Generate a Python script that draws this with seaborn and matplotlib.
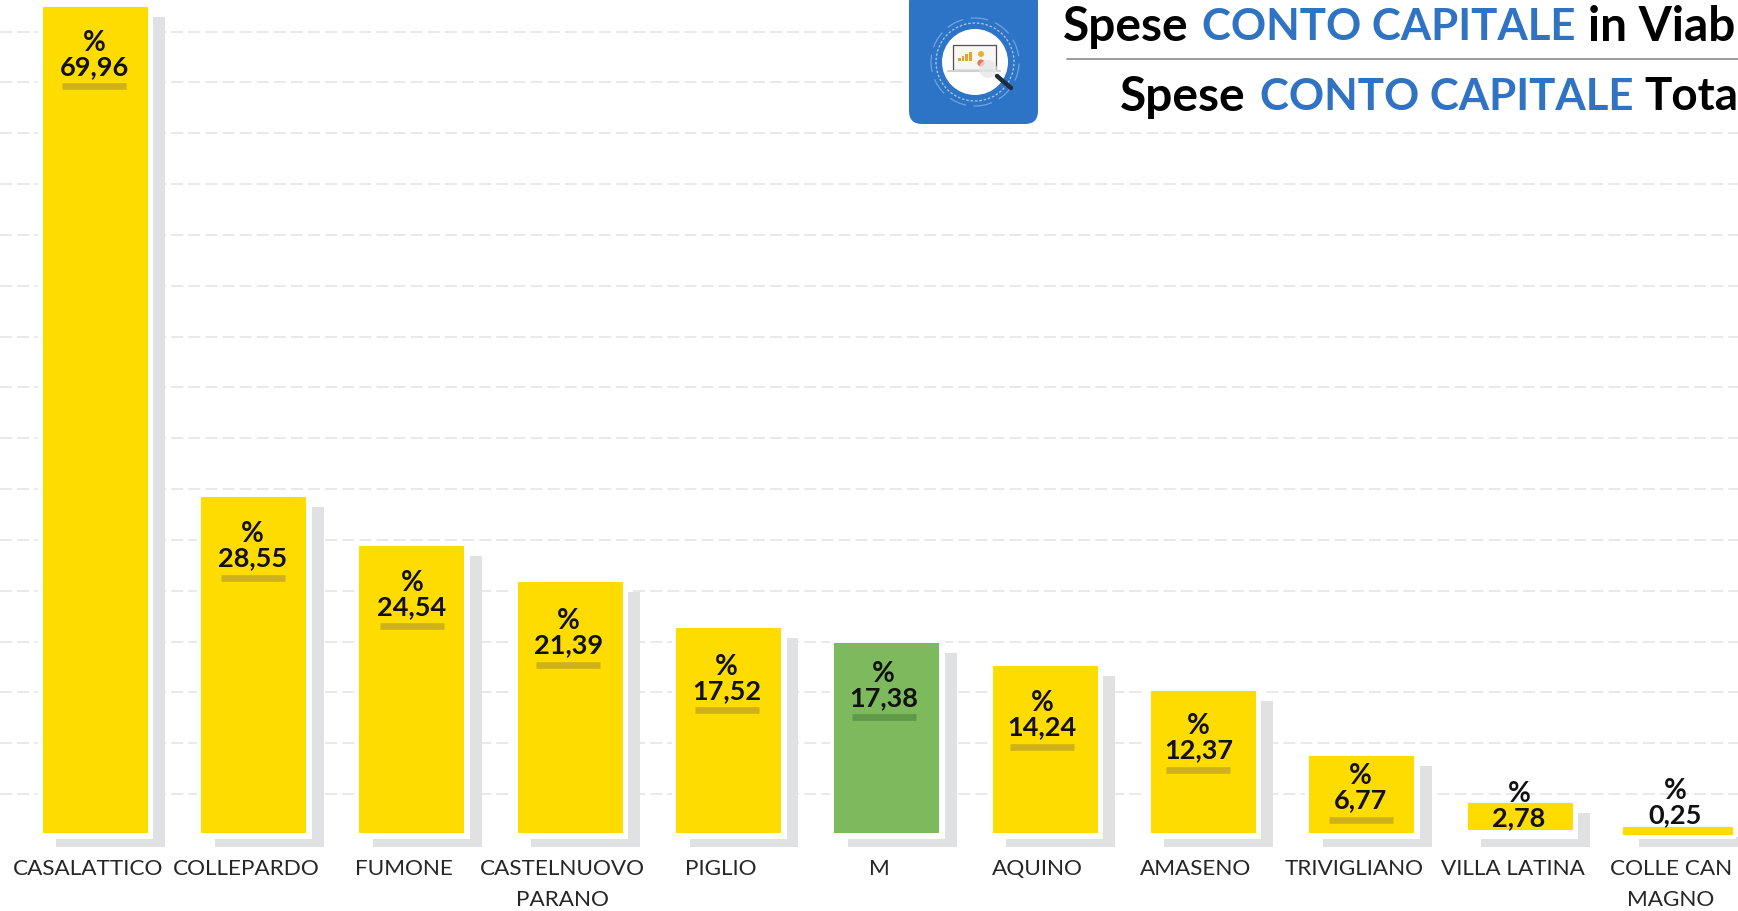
import matplotlib
matplotlib.use("Agg")
import matplotlib.pyplot as plt
from matplotlib.patches import FancyBboxPatch, Circle, Rectangle
from matplotlib.transforms import ScaledTranslation
import seaborn as sns
import pandas as pd

comuni = ["CASALATTICO", "COLLEPARDO", "FUMONE", "CASTELNUOVO\nPARANO", "PIGLIO", "M",
          "AQUINO", "AMASENO", "TRIVIGLIANO", "VILLA LATINA", "COLLE CAN\nMAGNO"]
# printed percentages
percent_labels = ["69,96", "28,55", "24,54", "21,39", "17,52", "17,38",
                  "14,24", "12,37", "6,77", "2,78", "0,25"]
# heights as actually drawn in the picture (the infographic is not strictly to scale)
drawn_heights = [69.9, 28.4, 24.3, 21.2, 17.35, 16.1, 14.1, 12.0, 6.5, 2.3, 0.7]
drawn_bottoms = [0, 0, 0, 0, 0, 0, 0, 0, 0, 0.25, -0.17]
grid_levels = [3.3, 7.6, 11.9, 16.2, 20.5, 24.8, 29.1, 33.4, 37.7, 42.0, 46.3, 50.6, 54.9, 59.2, 63.5, 67.8]

W, H = 1738, 912
PX_Y = 11.82
PITCH = 158.3
YEL, GRN, SHD = "#FFDC00", "#7DB95D", "#E0E1E3"
colors = [GRN if c == "M" else YEL for c in comuni]
und_colors = ["#5E9A48" if c == "M" else "#CFB21A" for c in comuni]
# pixel offsets of the value text relative to the bar top / bar centre
val_off = [59, 60, 60, 62, 62, 54, 60, 58, 43, 14, -13]
lab_dx = [-1, -1, 0, -2, -2, -3, -3, -5, -1, -1, -3]

sns.set_theme(style="white")
plt.rcParams["font.family"] = ["Lato", "DejaVu Sans"]

fig = plt.figure(figsize=(W / 100, H / 100), dpi=100, facecolor="white")
ax = fig.add_axes([0, 0, 1, 1])

bw = 105 / PITCH
xs = list(range(len(comuni)))

df = pd.DataFrame({"comune": comuni, "h": drawn_heights})
sns.barplot(data=df, x="comune", y="h", hue="comune", palette=colors, legend=False,
            width=bw, saturation=1, ax=ax, zorder=4, linewidth=0)
for p, b in zip(ax.patches, drawn_bottoms):
    p.set_y(b)
last = ax.patches[len(comuni) - 1]
last.set_x(10 - 55 / PITCH)
last.set_width(110 / PITCH)

PT = 0.72  # points per pixel at 100 dpi
for i, (h, b) in enumerate(zip(drawn_heights, drawn_bottoms)):
    top = b + h
    # grey L-shaped shadow: grey rectangle partly covered by a white one
    ax.bar(i + 15.5 / PITCH, top + 4 / PX_Y, width=109 / PITCH, bottom=-14 / PX_Y,
           color=SHD, linewidth=0, zorder=2)
    ax.bar(i + 0.5 / PITCH, top + 9 / PX_Y, width=115 / PITCH, bottom=-6 / PX_Y,
           color="white", linewidth=0, zorder=3)
    off = val_off[i]
    dx = lab_dx[i]
    ax.annotate(percent_labels[i], (i, top), xytext=(dx * PT, -off * PT), textcoords="offset points",
                ha="center", va="center", fontsize=19.5, fontweight="bold", color="#111111", zorder=6)
    ax.annotate("%", (i, top), xytext=(dx * PT, -(off - 24) * PT), textcoords="offset points",
                ha="center", va="center", fontsize=20, fontweight="bold", color="#111111", zorder=6)
    if i < 9:
        ax.plot([i + (dx - 32) / PITCH, i + (dx + 32) / PITCH], [top - (off + 20.5) / PX_Y] * 2,
                color=und_colors[i], lw=4.8, solid_capstyle="butt", zorder=5)

ax.set_xlim(-95.3 / PITCH, (W - 95.3) / PITCH)
ax.set_ylim(-(H - 834) / PX_Y, 834 / PX_Y)
ax.set_yticks(grid_levels)
ax.set_yticklabels([])
ax.grid(axis="y", color="#E9E9E9", lw=1.4, ls=(0, (6.2, 2.6)), zorder=1)
ax.set_axisbelow(True)
ax.set_xlabel("")
ax.set_ylabel("")
ax.tick_params(axis="both", length=0)
ax.set_xticks(xs)
ax.set_xticklabels(comuni, fontsize=16.2, color="#262626", linespacing=1.7)
ax.tick_params(axis="x", pad=-38, direction="in")
shift = ScaledTranslation(-7.5 / 100, 0, fig.dpi_scale_trans)
for t in ax.get_xticklabels():
    t.set_transform(t.get_transform() + shift)
    t.set_verticalalignment("top")
for s in ax.spines.values():
    s.set_visible(False)


# header, placed in figure pixels (y measured from top)
def fx(x):
    return x / W


def fy(y):
    return 1 - y / H


fig.add_artist(Rectangle((fx(905), fy(128)), 833 / W, 128 / H, transform=fig.transFigure,
                         fc="white", ec="none", zorder=7))
fig.add_artist(FancyBboxPatch((909, H - 125), 129, 135, boxstyle="round,pad=0,rounding_size=13",
                              transform=None, fc="#2E74C6", ec="none", zorder=8))
fig.add_artist(Circle((975, H - 63), 33, transform=None, fc="white", ec="none", zorder=9))
fig.add_artist(Circle((975, H - 63), 39, transform=None, fc="none", ec="#A9CBF0", lw=0.9, ls=(0, (2, 1.5)), zorder=9))
fig.add_artist(Circle((975, H - 63), 44, transform=None, fc="none", ec="#6FA4E0", lw=0.9, ls=(0, (14, 6)), zorder=9))
fig.add_artist(Rectangle((953, H - 71), 43, 25, transform=None, fc="#F7F7F7", ec="#5A4A48", lw=0.9, zorder=10))
fig.add_artist(plt.Line2D([948, 1000], [H - 72, H - 72], transform=None, color="#D0D0D0", lw=1.5, zorder=10))
for k, hh in enumerate([3, 5, 7, 9]):
    fig.add_artist(Rectangle((958 + k * 3.6, H - 62), 2.8, hh, transform=None, fc="#E8A030", ec="none", zorder=11))
fig.add_artist(Circle((981, H - 55), 3, transform=None, fc="#EBB030", ec="none", zorder=11))
fig.add_artist(Circle((981, H - 64), 3.6, transform=None, fc="#E57B55", ec="none", zorder=11))
fig.add_artist(Circle((988, H - 70), 9, transform=None, fc="#E6E6E6", ec="none", alpha=0.75, zorder=11))
fig.add_artist(plt.Line2D([997, 1011], [H - 77, H - 89], transform=None, color="#1F2A3A", lw=3.2, zorder=11))

BLUE = "#2F73C2"
# x, y, text, colour, size
pieces = [(1063, 27, "Spese", "black", 34.5), (1202, 27, "CONTO CAPITALE", BLUE, 31.5),
          (1588, 27, "in Viab", "black", 34.5),
          (1120, 97, "Spese", "black", 34.5), (1260, 97, "CONTO CAPITALE", BLUE, 31.5),
          (1644, 97, "Tota", "black", 33)]
for x, y, s, c, fs in pieces:
    fig.text(fx(x), fy(y), s, fontsize=fs, fontweight="bold", color=c, ha="left", va="center", zorder=12)
fig.add_artist(plt.Line2D([fx(1067), 1], [fy(60), fy(60)], transform=fig.transFigure,
                          color="#8A8A8A", lw=1.2, zorder=12))

fig.savefig("out.png", dpi=100, facecolor="white")
